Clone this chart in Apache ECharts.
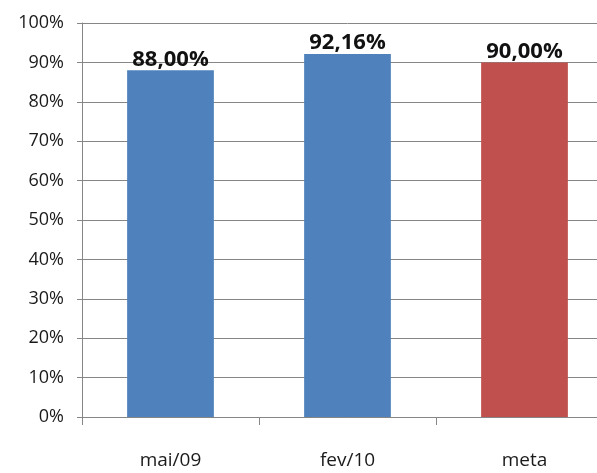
<!DOCTYPE html>
<html>
<head>
<meta charset="utf-8">
<script src="https://cdn.jsdelivr.net/npm/echarts@6/dist/echarts.min.js"></script>
<style>
  html, body { margin: 0; padding: 0; background: #ffffff; overflow: hidden; }
  #wrap { width: 597px; height: 473px; overflow: hidden; }
  /* plot area runs past the right edge of the frame */
  #chart { width: 613px; height: 473px; }
</style>
</head>
<body>
<div id="wrap"><div id="chart"></div></div>
<script>
// Categories and percentage values
const categories = ['mai/09', 'fev/10', 'meta'];
const values = [88.00, 92.16, 90.00];
const barColors = ['#4F81BD', '#4F81BD', '#C0504D'];
const yTicks = [0, 10, 20, 30, 40, 50, 60, 70, 80, 90, 100];

const chart = echarts.init(document.getElementById('chart'));

const fmtPct = v => v.toFixed(2).replace('.', ',') + '%';

chart.setOption({
  animation: false,
  backgroundColor: '#ffffff',
  grid: { left: 82, top: 23, right: 0, bottom: 56, containLabel: false },
  xAxis: {
    type: 'category',
    data: categories,
    axisLine: { show: true, lineStyle: { color: '#868686', width: 1 } },
    axisTick: { show: true, alignWithLabel: false, length: 8, lineStyle: { color: '#868686' } },
    axisLabel: { color: '#1a1a1a', fontFamily: 'Open Sans', fontSize: 19, margin: 34 }
  },
  yAxis: {
    type: 'value',
    min: yTicks[0],
    max: yTicks[yTicks.length - 1],
    interval: 10,
    axisLine: { show: true, lineStyle: { color: '#868686', width: 1 } },
    axisTick: { show: true, length: 5, lineStyle: { color: '#868686' } },
    splitLine: { show: true, lineStyle: { color: '#868686', width: 1 } },
    axisLabel: {
      color: '#1a1a1a', fontFamily: 'Open Sans', fontSize: 18, margin: 18,
      formatter: v => v + '%'
    }
  },
  series: [{
    type: 'bar',
    barWidth: '49%',
    data: values.map((v, i) => ({ value: v, itemStyle: { color: barColors[i] } })),
    label: {
      show: true,
      position: 'top',
      distance: 0,
      color: '#111',
      fontFamily: 'Open Sans',
      fontWeight: 'bold',
      fontSize: 22,
      formatter: p => fmtPct(p.value)
    }
  }]
});
</script>
</body>
</html>
